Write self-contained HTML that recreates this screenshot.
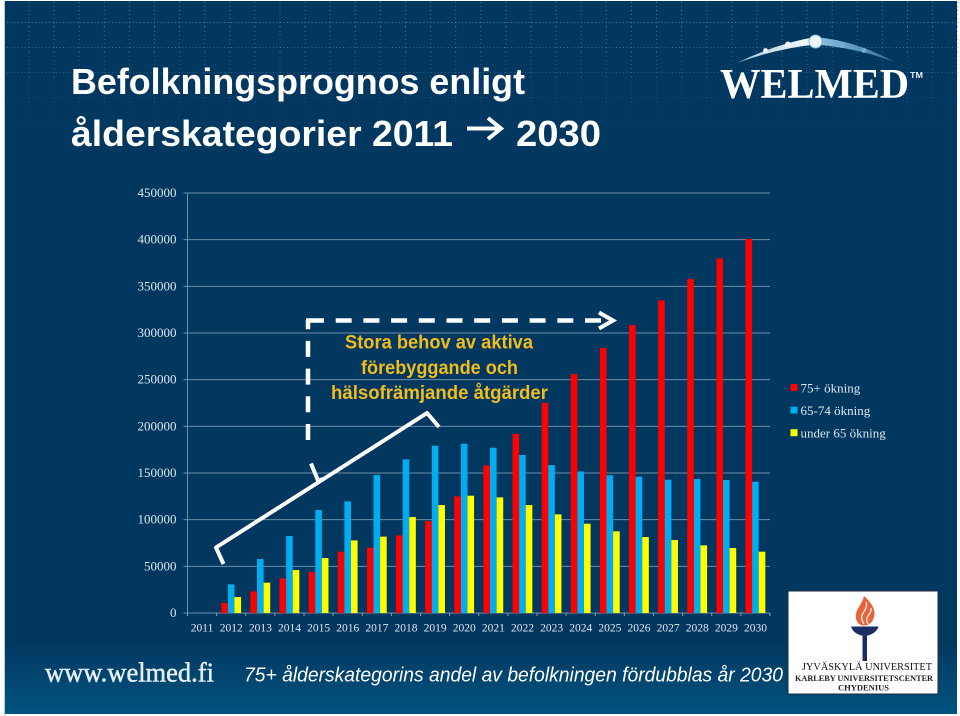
<!DOCTYPE html>
<html lang="sv">
<head>
<meta charset="utf-8">
<title>Befolkningsprognos enligt ålderskategorier 2011–2030</title>
<style>
  html,body{margin:0;padding:0;background:#fff;}
  body{width:960px;height:716px;overflow:hidden;}
  svg{display:block;}
  .serif{font-family:"Liberation Serif",serif;}
  .sans{font-family:"Liberation Sans",sans-serif;}
</style>
</head>
<body>
<svg id="slide" xmlns="http://www.w3.org/2000/svg" width="960" height="716" viewBox="0 0 960 716">
  <defs>
    <linearGradient id="footerGrad" x1="0" y1="0" x2="0" y2="1">
      <stop offset="0" stop-color="#02375f"/>
      <stop offset="1" stop-color="#01537f"/>
    </linearGradient>
    <linearGradient id="arcLeft" x1="0" y1="0" x2="1" y2="0">
      <stop offset="0" stop-color="#9fc3da"/>
      <stop offset="1" stop-color="#ffffff"/>
    </linearGradient>
    <linearGradient id="arcRight" x1="0" y1="0" x2="1" y2="0">
      <stop offset="0" stop-color="#8fc4e4"/>
      <stop offset="1" stop-color="#2f6f9c"/>
    </linearGradient>
  </defs>

  <rect x="0" y="0" width="960" height="716" fill="#ffffff"/>
  <rect x="4" y="0.5" width="1" height="715" fill="#a9d3e6"/>
  <rect x="5" y="1" width="952" height="713" fill="#02375f"/>
  <rect x="5" y="640" width="952" height="74" fill="url(#footerGrad)"/>
  <g id="dots"></g>

  <g class="sans" font-weight="700" font-size="36.500" fill="#ffffff">
    <text x="71" y="94" textLength="454" lengthAdjust="spacingAndGlyphs">Befolkningsprognos enligt</text>
    <text x="71" y="146" textLength="382" lengthAdjust="spacingAndGlyphs">ålderskategorier 2011</text>
    <path d="M467 128.500H500M488 118L501 128.500L488 139" fill="none" stroke="#ffffff" stroke-width="4"/>
    <text x="516" y="146" textLength="85" lengthAdjust="spacingAndGlyphs">2030</text>
  </g>

  <g>
    <path d="M737 63Q775 44 815 37L815 44.500Q775 49 737 63Z" fill="url(#arcLeft)"/>
    <path d="M815 37Q858 41 894 62Q858 48 815 44.500Z" fill="url(#arcRight)"/>
    <circle cx="765.500" cy="50.500" r="2.400" fill="#e8f2f8"/>
    <circle cx="788" cy="44.500" r="3" fill="#f2f8fb"/>
    <circle cx="815.500" cy="41.500" r="6.500" fill="#eef6fb" stroke="#7fb6da" stroke-width="1"/>
    <circle cx="842" cy="45" r="3" fill="#6faed6"/>
    <circle cx="864" cy="50.500" r="2.400" fill="#6faed6"/>
    <text x="720" y="98" class="serif" font-weight="700" font-size="42" fill="#ffffff" textLength="189" lengthAdjust="spacingAndGlyphs">WELMED</text>
    <text x="910" y="78" class="sans" font-weight="700" font-size="8" fill="#e4edf3" textLength="13" lengthAdjust="spacingAndGlyphs">TM</text>
  </g>

  <g id="chart"></g>

  <g fill="none" stroke="#ffffff">
    <path d="M308 440V320" stroke-width="4.500" stroke-dasharray="16 11.7"/>
    <path d="M306 320.500H604" stroke-width="4.500" stroke-dasharray="18 11.700 16 11.700 16 11.700 16 11.700 16 11.700 16 11.700 16 11.700 16 11.700 16 11.700 16 11.700 16 11.700"/>
    <path d="M599 312.500L613 320.500L599 328.500" stroke-width="4"/>
    <path d="M223.500 564L216 547.500L322 480L427 413L439 427" stroke-width="4" stroke-linejoin="round"/>
    <path d="M311 463.500L318 480.500L324 479" stroke-width="4"/>
  </g>

  <g class="sans" font-weight="700" font-size="19" fill="#f2bc1d">
    <text x="345" y="348.500" textLength="188" lengthAdjust="spacingAndGlyphs">Stora behov av aktiva</text>
    <text x="361" y="374" textLength="157" lengthAdjust="spacingAndGlyphs">förebyggande och</text>
    <text x="331" y="399" textLength="217" lengthAdjust="spacingAndGlyphs">hälsofrämjande åtgärder</text>
  </g>

  <text x="45" y="681.500" class="serif" font-size="27" fill="#e4eff5" stroke="#e4eff5" stroke-width="0.500" textLength="169" lengthAdjust="spacingAndGlyphs">www.welmed.fi</text>
  <text x="244" y="681.500" class="sans" font-style="italic" font-size="20" fill="#ffffff" textLength="539" lengthAdjust="spacingAndGlyphs">75+ ålderskategorins andel av befolkningen fördubblas år 2030</text>

  <g>
    <rect x="788" y="591" width="150" height="103" fill="#ffffff" stroke="#1c2b3c" stroke-width="1"/>
    <path d="M864 596C873 604 877 612 873 620C871 624 867 625.500 864 625.500C858 625.500 855 620 856 614C857 608 862 604 864 596Z" fill="#e8623a"/>
    <path d="M866 602C868 607 864 611 862 615C861 618 862 621 864 624M871 608C872 612 868 615 867 618C866 620 867 622 868 624" fill="none" stroke="#ffffff" stroke-width="1.200"/>
    <path d="M851 626.500H878.500C877 632 871 635 867.500 635.500H862C858 635 852.500 632 851 626.500Z" fill="#1b2d63"/>
    <rect x="862.500" y="635" width="4.500" height="26" fill="#1b2d63"/>
    <text x="802" y="670" class="serif" font-size="10.500" fill="#111111" textLength="130" lengthAdjust="spacingAndGlyphs">JYVÄSKYLÄ UNIVERSITET</text>
    <text x="795" y="681" class="serif" font-weight="700" font-size="8.500" fill="#222222" textLength="138" lengthAdjust="spacingAndGlyphs">KARLEBY UNIVERSITETSCENTER</text>
    <text x="838" y="690.500" class="serif" font-weight="700" font-size="8.500" fill="#222222" textLength="51" lengthAdjust="spacingAndGlyphs">CHYDENIUS</text>
  </g>
</svg>

<script>
var years = ["2011","2012","2013","2014","2015","2016","2017","2018","2019","2020","2021","2022","2023","2024","2025","2026","2027","2028","2029","2030"];
var seriesOver75 = [0,10700,23200,37100,43900,65700,70000,83200,98500,125000,158200,191800,225000,256000,284000,308500,335000,357800,380000,400700];
var series65to74 = [0,30700,57800,82500,110300,119600,147800,164600,179200,181400,177100,169300,158500,151700,147500,146000,142800,143500,142500,140700];
var seriesUnder65 = [0,17100,32500,46000,58900,77800,81800,102800,115700,125700,123900,115700,105700,95700,87500,81400,78200,72500,69600,65700];
var yTicks = [0,50000,100000,150000,200000,250000,300000,350000,400000,450000];
var seriesNames = ["75+ ökning","65-74 ökning","under 65 ökning"];

var NS = "http://www.w3.org/2000/svg";
var chart = document.getElementById("chart");
var plotLeft = 187.5, plotRight = 770, plotBottom = 613, plotTop = 193, maxValue = 450000;
var barWidth = 6.6;
var colors = ["#ff0000","#00aeef","#ffff00"];
var allSeries = [seriesOver75, series65to74, seriesUnder65];
var seriesKeys = ["over-75","age-65-74","under-65"];

function yScale(v){ return plotBottom - (v / maxValue) * (plotBottom - plotTop); }
function xBand(i){ return plotLeft + i * (plotRight - plotLeft) / years.length; }
function xCenter(i){ return xBand(i) + (plotRight - plotLeft) / years.length / 2; }
function make(tag, attrs, parent){
  var el = document.createElementNS(NS, tag);
  for (var k in attrs) { el.setAttribute(k, attrs[k]); }
  parent.appendChild(el);
  return el;
}

yTicks.forEach(function(t){
  var y = yScale(t);
  var line = make("line", {x1: plotLeft - 4, x2: plotRight, y1: y, y2: y, stroke: "#6f8ea8", "stroke-width": 1}, chart);
  
  
  var label = make("text", {x: 176.5, y: y + 4, "text-anchor": "end", "font-size": 13, fill: "#dce7ee", "font-family": '"Liberation Serif",serif'}, chart);
  label.textContent = String(t);
  
  
});

var yAxis = make("line", {x1: plotLeft, x2: plotLeft, y1: plotTop, y2: plotBottom, stroke: "#6f8ea8", "stroke-width": 1}, chart);



for (var b = 0; b <= years.length; b++) {
  var tick = make("line", {x1: xBand(b), x2: xBand(b), y1: plotBottom, y2: plotBottom + 3, stroke: "#8aa4b9", "stroke-width": 1}, chart);
  
  
}

years.forEach(function(yr, i){
  allSeries.forEach(function(values, s){
    var top = yScale(values[i]);
    var rect = make("rect", {x: xCenter(i) - 1.5 * barWidth + s * barWidth, y: top, width: barWidth, height: plotBottom - top, fill: colors[s]}, chart);
    
    
  });
  var label = make("text", {x: xCenter(i), y: 631.5, "text-anchor": "middle", "font-size": 11.5, fill: "#dce7ee", "font-family": '"Liberation Serif",serif'}, chart);
  label.textContent = yr;
  
  
});

seriesNames.forEach(function(name, s){
  var swatch = make("rect", {x: 790.5, y: 384 + s * 22.6, width: 7, height: 7, fill: colors[s]}, chart);
  
  
  var text = make("text", {x: 800.5, y: 392.5 + s * 22.6, "font-size": 13, fill: "#dce7ee", "font-family": '"Liberation Serif",serif'}, chart);
  text.textContent = name;
  
  
});

var dots = document.getElementById("dots");
var rowOpacity = [0.75, 0.6, 0.4, 0.22, 0.1];
rowOpacity.forEach(function(op, r){
  var rowY = 22.5 + r * 25;
  var row = make("line", {x1: 7, x2: 956, y1: rowY, y2: rowY, stroke: "#4d93c0", "stroke-width": 1, "stroke-dasharray": "1 2.5", opacity: op}, dots);
  
  
});
for (var c = 0; c < 38; c++) {
  var colX = 29 + c * 25.1;
  for (var seg = 0; seg < 5; seg++) {
    var col = make("line", {x1: colX, x2: colX, y1: 2 + seg * 25, y2: 2 + (seg + 1) * 25, stroke: "#4d93c0", "stroke-width": 1, "stroke-dasharray": "1 3", opacity: 0.7 - seg * 0.14}, dots);
    
    
  }
}
</script>
</body>
</html>
